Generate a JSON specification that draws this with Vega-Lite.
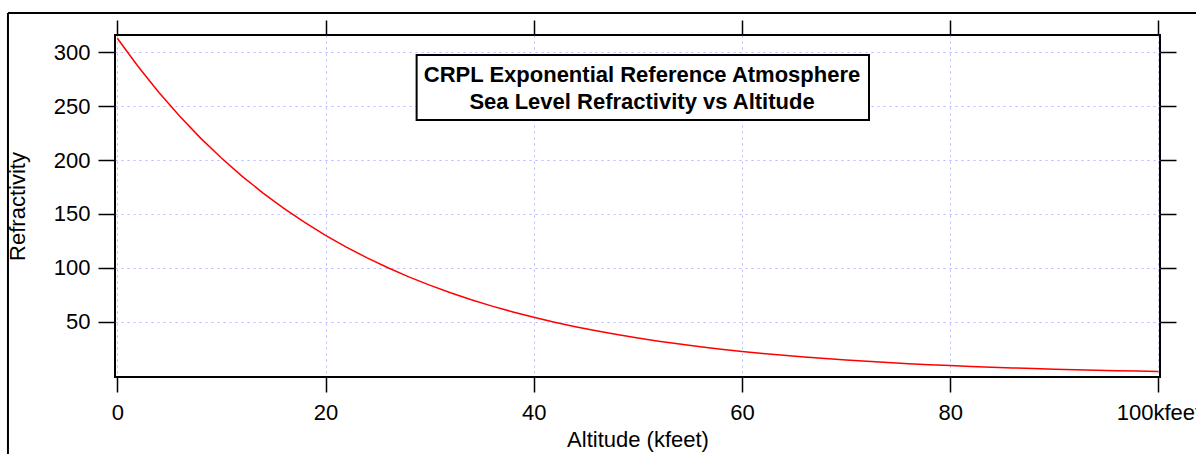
{
  "$schema": "https://vega.github.io/schema/vega-lite/v6.json",
  "width": 1045,
  "height": 342,
  "autosize": {"type": "none"},
  "padding": {"left": 115, "top": 35, "right": 36, "bottom": 77},
  "background": "white",
  "config": {
    "view": {"stroke": "black", "strokeWidth": 2},
    "font": "Liberation Sans",
    "axis": {
      "labelFont": "Liberation Sans",
      "titleFont": "Liberation Sans",
      "labelFontSize": 22,
      "titleFontSize": 22,
      "labelColor": "black",
      "titleColor": "black",
      "titleFontWeight": "normal",
      "tickColor": "black",
      "tickWidth": 1.5,
      "domain": false,
      "gridColor": "#9999ff",
      "gridOpacity": 0.7,
      "gridDash": [2, 4],
      "gridWidth": 1
    }
  },
  "datasets": {
    "curve": [
      {"h": 0, "N": 313.0}, {"h": 2, "N": 286.72}, {"h": 4, "N": 262.64}, {"h": 6, "N": 240.58},
      {"h": 8, "N": 220.38}, {"h": 10, "N": 201.87}, {"h": 12, "N": 184.92}, {"h": 14, "N": 169.39},
      {"h": 16, "N": 155.17}, {"h": 18, "N": 142.14}, {"h": 20, "N": 130.2}, {"h": 22, "N": 119.27},
      {"h": 24, "N": 109.25}, {"h": 26, "N": 100.08}, {"h": 28, "N": 91.67}, {"h": 30, "N": 83.98},
      {"h": 32, "N": 76.92}, {"h": 34, "N": 70.46}, {"h": 36, "N": 64.55}, {"h": 38, "N": 59.13},
      {"h": 40, "N": 54.16}, {"h": 42, "N": 49.61}, {"h": 44, "N": 45.45}, {"h": 46, "N": 41.63},
      {"h": 48, "N": 38.14}, {"h": 50, "N": 34.93}, {"h": 52, "N": 32.0}, {"h": 54, "N": 29.31},
      {"h": 56, "N": 26.85}, {"h": 58, "N": 24.6}, {"h": 60, "N": 22.53}, {"h": 62, "N": 20.64},
      {"h": 64, "N": 18.91}, {"h": 66, "N": 17.32}, {"h": 68, "N": 15.86}, {"h": 70, "N": 14.53},
      {"h": 72, "N": 13.31}, {"h": 74, "N": 12.19}, {"h": 76, "N": 11.17}, {"h": 78, "N": 10.23},
      {"h": 80, "N": 9.37}, {"h": 82, "N": 8.59}, {"h": 84, "N": 7.86}, {"h": 86, "N": 7.2},
      {"h": 88, "N": 6.6}, {"h": 90, "N": 6.05}, {"h": 92, "N": 5.54}, {"h": 94, "N": 5.07},
      {"h": 96, "N": 4.65}, {"h": 98, "N": 4.26}, {"h": 100, "N": 3.9}
    ],
    "box": [{"x": 28.75, "x2": 72.2, "y": 297.5, "y2": 237.1}],
    "labels": [
      {"x": 50.4, "y": 278.9, "t": "CRPL Exponential Reference Atmosphere"},
      {"x": 50.4, "y": 254.1, "t": "Sea Level Refractivity vs Altitude"}
    ],
    "frame": [
      {"x": -10.5, "x2": 104, "y": 336.5, "y2": 336.5},
      {"x": -10.5, "x2": -10.5, "y": 336.5, "y2": -75}
    ]
  },
  "resolve": {"axis": {"x": "independent", "y": "independent"}},
  "layer": [
    {
      "data": {"name": "curve"},
      "mark": {"type": "line", "color": "#ff0000", "strokeWidth": 1.5, "clip": true},
      "encoding": {
        "x": {
          "field": "h", "type": "quantitative",
          "scale": {"domain": [-0.22, 100.15], "nice": false, "zero": false},
          "axis": {
            "orient": "bottom",
            "values": [0, 20, 40, 60, 80, 100],
            "tickSize": 15,
            "labelPadding": 10,
            "labelExpr": "datum.value == 100 ? '100kfeet' : datum.label",
            "title": "Altitude (kfeet)",
            "titlePadding": 6,
            "grid": true
          }
        },
        "y": {
          "field": "N", "type": "quantitative",
          "scale": {"domain": [-1.2, 316], "nice": false, "zero": false},
          "axis": {
            "orient": "left",
            "values": [50, 100, 150, 200, 250, 300],
            "tickSize": 17,
            "labelPadding": 8,
            "title": "Refractivity",
            "titlePadding": 24,
            "grid": true
          }
        }
      }
    },
    {
      "data": {"name": "frame"},
      "mark": {"type": "rule", "color": "black", "strokeWidth": 2, "clip": false},
      "encoding": {
        "x": {
          "field": "x", "type": "quantitative",
          "scale": {"domain": [-0.22, 100.15], "nice": false, "zero": false},
          "axis": {"orient": "top", "values": [0, 20, 40, 60, 80, 100], "labels": false, "grid": false, "tickSize": 15, "title": null}
        },
        "x2": {"field": "x2"},
        "y": {
          "field": "y", "type": "quantitative",
          "scale": {"domain": [-1.2, 316], "nice": false, "zero": false},
          "axis": {"orient": "right", "values": [50, 100, 150, 200, 250, 300], "labels": false, "grid": false, "tickSize": 16, "title": null}
        },
        "y2": {"field": "y2"}
      }
    },
    {
      "data": {"name": "box"},
      "mark": {"type": "rect", "fill": "white", "stroke": "black", "strokeWidth": 2},
      "encoding": {
        "x": {"field": "x", "type": "quantitative", "axis": null},
        "x2": {"field": "x2"},
        "y": {"field": "y", "type": "quantitative", "axis": null},
        "y2": {"field": "y2"}
      }
    },
    {
      "data": {"name": "labels"},
      "mark": {"type": "text", "font": "Liberation Sans", "fontSize": 22, "fontWeight": "bold", "color": "black", "align": "center", "baseline": "middle"},
      "encoding": {
        "x": {"field": "x", "type": "quantitative", "axis": null},
        "y": {"field": "y", "type": "quantitative", "axis": null},
        "text": {"field": "t"}
      }
    }
  ]
}
